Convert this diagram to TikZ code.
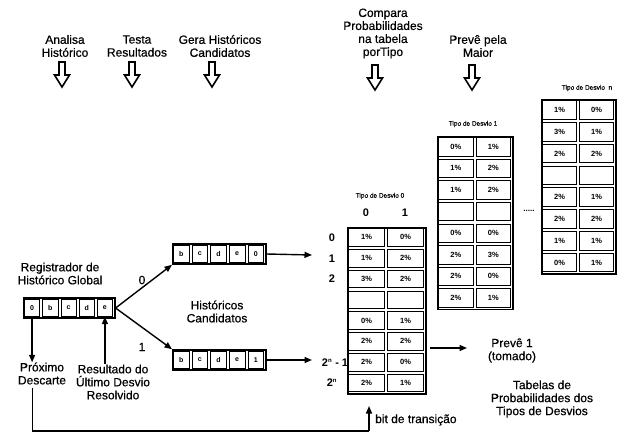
\documentclass[tikz,border=0pt]{standalone}
\usepackage{fontspec}
\setmainfont{Liberation Sans}
\newfontfamily\heavy{Liberation Sans}[FakeBold=0.6]
\usetikzlibrary{arrows.meta,calc}

% register of bits: name, left x, centre y, width, cell texts
\newcommand\regbox[5]{%
  \node[frame, minimum width=#4, minimum height=20, anchor=west] (#1) at (#2,#3) {};
  \foreach \t [count=\i] in {#5}{
    \pgfmathsetmacro\cx{#2+(\i-0.5)*#4/5}
    \node[regcell, minimum width=#4/5-3, minimum height=16.5] (#1-\i) at (\cx,#3) {\t};
  }%
}

% probability table: name, left x, top y, column width, row height, entries
\newcommand\probtable[6]{%
  \node[frame, minimum width=2*#4, minimum height=8*#5, anchor=north west] (#1) at (#2,#3) {};
  \foreach \t [count=\i from 0] in {#6}{
    \pgfmathtruncatemacro\r{int(\i/2)}
    \pgfmathtruncatemacro\c{mod(\i,2)}
    \pgfmathsetmacro\cx{#2+(\c+0.5)*#4}
    \pgfmathsetmacro\cy{#3+(\r+0.5)*#5}
    \node[tabcell, minimum width=#4-3.2, minimum height=#5-3.2] (#1-\r-\c) at (\cx,\cy) {\t};
  }%
}

\tikzset{
  lbl/.style={align=center, inner sep=0pt, font=\heavy\fontsize{12}{13}\selectfont},
  small/.style={inner sep=0pt, font=\heavy\fontsize{6.5}{8}\selectfont},
  idx/.style={inner sep=0pt, font=\fontsize{11}{12}\selectfont\bfseries},
  frame/.style={draw, line width=1.6pt, inner sep=0pt},
  regcell/.style={draw, line width=0.8pt, inner sep=0pt, font=\fontsize{7}{8}\selectfont\bfseries},
  tabcell/.style={draw, line width=0.8pt, inner sep=0pt, font=\fontsize{7.5}{8}\selectfont\bfseries},
  arr/.style={line width=1.4pt, -{Triangle[length=7.5pt,width=6pt]}},
  link/.style={line width=1.2pt},
  hollowdown/.pic={
    \draw[line width=1.6pt, line join=miter]
      (-3,0) -- (-3,13) -- (-7.5,13) -- (0,25) -- (7.5,13) -- (3,13) -- (3,0) -- cycle;
  }
}

\begin{document}
\begin{tikzpicture}[x=1pt, y=-1pt]
\useasboundingbox (0,0) rectangle (626,439);

% step captions along the top
\node[lbl] (cAnalisa) at (65,46) {Analisa\\Histórico};
\node[lbl] (cTesta) at (137,46) {Testa\\Resultados};
\node[lbl] (cGera) at (220,46) {Gera Históricos\\Candidatos};
\node[lbl] (cCompara) at (383,33.5) {Compara\\Probabilidades\\na tabela\\porTipo};
\node[lbl] (cPreve) at (478,46) {Prevê pela\\Maior};

\pic at (62,62) {hollowdown};
\pic at (132,62) {hollowdown};
\pic at (212,62) {hollowdown};
\pic at (375,65) {hollowdown};
\pic at (472,65) {hollowdown};

% global history register and the two candidate histories
\node[lbl] (regTitle) at (60,273.5) {Registrador de\\Histórico Global};
\regbox{reg}{23}{308}{91}{0,b,c,d,e}
\regbox{up}{172}{254}{93}{b,c,d,e,0}
\regbox{low}{172}{360}{93}{b,c,d,e,1}

\draw[arr] (reg.east) -- (up.south west);
\draw[arr] (reg.east) -- (low.north west);
\node[lbl] (b0) at (142,280) {0};
\node[lbl] (b1) at (142,347) {1};
\node[lbl] (hc) at (217,311.5) {Históricos\\Candidatos};

\coordinate (upEnd) at (312,255);
\coordinate (lowEnd) at (312,360);
\draw[arr] (up.east) -- (upEnd);
\draw[arr] (low.east) -- (lowEnd);

\node[lbl] (prox) at (42,373.5) {Próximo\\Descarte};
\node[lbl] (res) at (113,382) {Resultado do\\Último Desvio\\Resolvido};
\draw[arr] (reg-1.south) -- (reg-1.south |- prox.north);
\draw[arr] (reg-5.south |- res.north) -- (reg-5.south);

% probability tables
\node[small] (t0title) at (380,196) {Tipo de Desvio 0};
\node[idx] (col0) at (366,213) {0};
\node[idx] (col1) at (405,213) {1};
\probtable{t0}{347}{227}{39}{20.8}{1\%,0\%,1\%,2\%,3\%,2\%,{},{},0\%,1\%,2\%,2\%,2\%,0\%,2\%,1\%}
\node[idx] (row0) at (332,237.5) {0};
\node[idx] (row1) at (332,258.3) {1};
\node[idx] (row2) at (332,279) {2};
\node[idx] (rowm) at (335,362.5) {2\textsuperscript{\fontsize{6}{6}\selectfont n} - 1};
\node[idx] (rown) at (332,383) {2\textsuperscript{\fontsize{6}{6}\selectfont n}};

\node[small] (t1title) at (473,124) {Tipo de Desvio 1};
\probtable{t1}{437}{136}{37.5}{21.6}{0\%,1\%,1\%,2\%,1\%,2\%,{},{},0\%,0\%,2\%,3\%,2\%,0\%,2\%,1\%}

\node[small] (tntitle) at (587,88) {Tipo de Desvio\ \ n};
\probtable{tn}{541}{99}{37}{21.8}{1\%,0\%,3\%,1\%,2\%,2\%,{},{},2\%,1\%,2\%,2\%,1\%,1\%,0\%,1\%}

\node[inner sep=0pt, font=\fontsize{8}{8}\selectfont\bfseries] (dots) at (529,211) {.....};

% prediction
\coordinate (pvA) at (430,348);
\coordinate (pvB) at (467,348);
\draw[arr] (pvA) -- (pvB);
\node[lbl] (prev) at (512,350.5) {Prevê 1\\(tomado)};
\node[lbl] (tabs) at (542,399) {Tabelas de\\Probabilidades dos\\Tipos de Desvios};

% feedback of the transition bit
\coordinate (fbCorner) at (369,431);
\coordinate (fbTip) at (369,406);
\draw[link] (reg-1.south |- prox.south) ++(0,3) -- (reg-1.south |- fbCorner) -- (fbCorner);
\draw[arr] (fbCorner) -- (fbTip);
\node[lbl, anchor=west] (bit) at (375,420) {bit de transição};
\end{tikzpicture}
\end{document}
